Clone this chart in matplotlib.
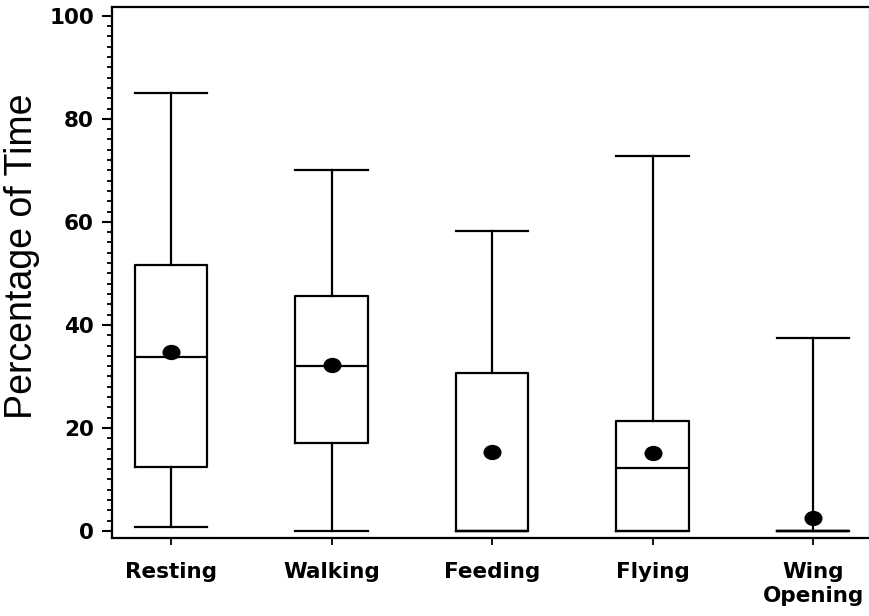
import matplotlib
matplotlib.use("Agg")
import matplotlib.pyplot as plt
from matplotlib.path import Path
from matplotlib.transforms import Affine2D
from matplotlib.ticker import MultipleLocator

categories = ["Resting", "Walking", "Feeding", "Flying", "Wing\nOpening"]
whislo = [0.8, 0.0, 0.0, 0.0, 0.0]
q1 = [12.4, 17.0, 0.0, 0.0, 0.0]
med = [33.7, 32.0, 0.0, 12.3, 0.0]
q3 = [51.6, 45.6, 30.6, 21.4, 0.0]
whishi = [85.0, 70.0, 58.3, 72.7, 37.5]
means = [34.8, 32.3, 15.3, 15.2, 2.5]

stats = []
for i, c in enumerate(categories):
    stats.append(dict(label=c, whislo=whislo[i], q1=q1[i], med=med[i],
                      q3=q3[i], whishi=whishi[i], mean=means[i], fliers=[]))

fig = plt.figure(figsize=(8.7, 6.16), dpi=100)
ax = fig.add_axes([0.1287, 0.1266, 0.8703, 0.8628])

ellipse = Path.unit_circle().transformed(Affine2D().scale(1.2, 1.0))
lw = 1.6
positions = list(range(1, len(categories) + 1))
ax.bxp(stats, positions=positions, widths=0.45, capwidths=0.45,
       showmeans=True, showfliers=False,
       boxprops=dict(color="black", linewidth=lw),
       whiskerprops=dict(color="black", linewidth=lw),
       capprops=dict(color="black", linewidth=lw),
       medianprops=dict(color="black", linewidth=lw),
       meanprops=dict(marker=ellipse, markerfacecolor="black",
                      markeredgecolor="black", markersize=12))

ax.set_xlim(0.632, 5.349)
ax.set_ylim(-1.36, 101.8)
ax.set_xticks(positions)
ax.set_xticklabels(categories, fontfamily="DejaVu Sans", fontweight="bold",
                   fontsize=15.5, linespacing=1.3)
ax.yaxis.set_major_locator(MultipleLocator(20))
ax.yaxis.set_minor_locator(MultipleLocator(2))
for lab in ax.get_yticklabels():
    lab.set_fontfamily("DejaVu Sans")
    lab.set_fontweight("bold")
    lab.set_fontsize(15.5)
ax.tick_params(axis="y", which="major", direction="out", length=7, width=1.5, pad=6)
ax.tick_params(axis="y", which="minor", direction="out", length=3.5, width=1.3)
ax.tick_params(axis="x", which="major", direction="out", length=5, width=1.3, pad=12)

ax.set_ylabel("Percentage of Time", fontfamily="Liberation Sans", fontsize=27)
ax.yaxis.set_label_coords(-0.095, 0.53)

for s in ["left", "bottom", "top"]:
    ax.spines[s].set_linewidth(1.6)
ax.spines["right"].set_linewidth(1.0)
ax.spines["right"].set_color("#aaaaaa")

fig.savefig("out.png", dpi=100)
